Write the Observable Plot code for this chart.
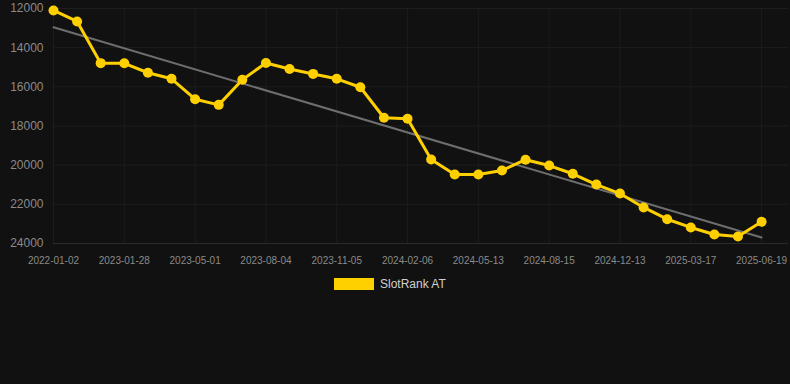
<!DOCTYPE html>
<html>
<head>
<meta charset="utf-8">
<script src="https://cdn.jsdelivr.net/npm/d3@7"></script>
<script src="https://cdn.jsdelivr.net/npm/@observablehq/plot@0.6"></script>
<style>
  html, body { margin: 0; padding: 0; background: #111111; width: 790px; height: 384px; overflow: hidden; }
  body { font-family: Arial, "Liberation Sans", Helvetica, sans-serif; }
  #legend { display: flex; align-items: center; margin-top: 8px; margin-left: 334px; height: 12px; }
  #legend .sw { width: 40px; height: 12px; background: #FFD000; }
  #legend .lb { margin-left: 6px; color: #d0d0d0; font-size: 12px; line-height: 12px; }
</style>
</head>
<body>
<div id="chart"></div>
<div id="legend"><div class="sw"></div><div class="lb">SlotRank AT</div></div>
<script>
// Dates of the observations (only every third one is labelled on the axis)
const dates = [
  "2022-01-02","2022-05-10","2022-09-18","2023-01-28","2023-02-28","2023-03-31",
  "2023-05-01","2023-06-01","2023-07-03","2023-08-04","2023-09-04","2023-10-05",
  "2023-11-05","2023-12-06","2024-01-06","2024-02-06","2024-03-08","2024-04-10",
  "2024-05-13","2024-06-13","2024-07-15","2024-08-15","2024-09-15","2024-10-14",
  "2024-12-13","2025-01-14","2025-02-14","2025-03-17","2025-04-17","2025-05-19",
  "2025-06-19"
];
// SlotRank AT rank values
const ranks = [
  12100, 12660, 14790, 14800, 15280, 15590, 16630, 16920, 15640, 14780,
  15090, 15340, 15590, 16020, 17580, 17630, 19710, 20480, 20480, 20270,
  19720, 20020, 20440, 20990, 21450, 22160, 22760, 23180, 23540, 23640,
  22890
];
const yTicks = [12000, 14000, 16000, 18000, 20000, 22000, 24000];
const seriesName = "SlotRank AT";

const data = dates.map((d, i) => ({i, date: d, rank: ranks[i], series: seriesName}));
const xTicks = d3.range(0, dates.length, 3);

const chart = Plot.plot({
  width: 790,
  height: 270,
  marginLeft: 53,
  marginRight: 2,
  marginTop: 8,
  marginBottom: 27,
  style: { background: "#111111", color: "#8a8a8a", fontFamily: "Arial, 'Liberation Sans', Helvetica, sans-serif" },
  x: { type: "linear", domain: [0, 31.14] },
  y: { domain: [12000, 24000], reverse: true },
  marks: [
    Plot.gridY(yTicks.slice(0, -1), { stroke: "#1e1e1e", strokeOpacity: 1 }),
    Plot.gridX(xTicks, { stroke: "#1c1c1c", strokeOpacity: 1, y1: 12000, y2: 24000 }),
    Plot.ruleY([24000], { stroke: "#2a2a2a" }),
    Plot.axisY(yTicks, { tickSize: 0, tickPadding: 10, fontSize: 12, fill: "#8a8a8a", tickFormat: d => String(d), label: null }),
    Plot.axisX(xTicks, { tickSize: 0, tickPadding: 13, fontSize: 10, fill: "#8a8a8a", tickFormat: i => dates[i], label: null }),
    Plot.linearRegressionY(data, { x: "i", y: "rank", ci: 0, stroke: "#6e6e6e", strokeWidth: 2 }),
    Plot.line(data, { x: "i", y: "rank", stroke: "#FFD000", strokeWidth: 3 }),
    Plot.dot(data, { x: "i", y: "rank", r: 5, fill: "#FFD000", stroke: "none" })
  ]
});
document.getElementById("chart").appendChild(chart);
</script>
</body>
</html>
